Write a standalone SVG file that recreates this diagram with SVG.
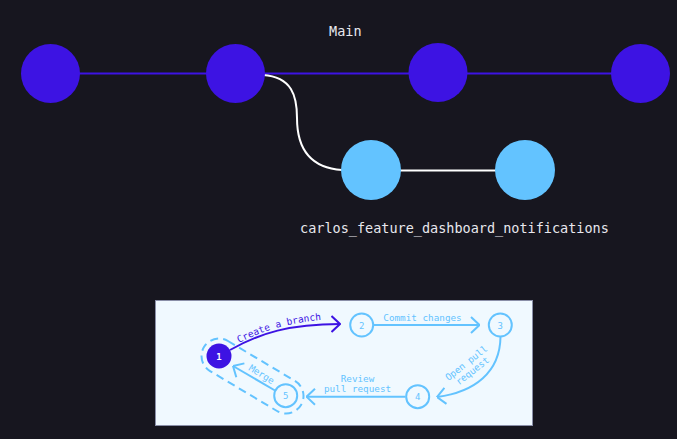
<svg xmlns="http://www.w3.org/2000/svg" width="677" height="439" viewBox="0 0 677 439">
<style>
.mono{font-family:"DejaVu Sans Mono","Liberation Mono",monospace}
.lbl{fill:#e8e8ee;font-size:13.5px}
.main{fill:#3d13e3}
.feat{fill:#63c3ff}
.step{fill:#f0f9ff;stroke:#63c3ff;stroke-width:2}
.num{font-size:9px;fill:#63c3ff;text-anchor:middle}
.plbl{font-size:9.3px;fill:#63c3ff}
.blue{fill:none;stroke:#63c3ff;stroke-width:2}
.purp{fill:none;stroke:#3d13e3;stroke-width:2}
</style>
<defs>
<marker id="chevB" viewBox="0 0 10 20" refX="9.5" refY="10" markerWidth="10" markerHeight="20" markerUnits="userSpaceOnUse" orient="auto">
<path d="M1,2 L9.5,10 L1,18" fill="none" stroke="#63c3ff" stroke-width="2"/>
</marker>
<marker id="chevP" viewBox="0 0 10 20" refX="9.5" refY="10" markerWidth="10" markerHeight="20" markerUnits="userSpaceOnUse" orient="auto">
<path d="M1,2 L9.5,10 L1,18" fill="none" stroke="#3d13e3" stroke-width="2"/>
</marker>
<path id="cbPath" d="M239 343 C260 332 290 321 334 319"/>
</defs>
<rect width="677" height="439" fill="#17161f"/>

<g id="connectors">
<line x1="50" y1="73.5" x2="640" y2="73.5" stroke="#3d13e3" stroke-width="2"/>
<path d="M263 75 C292 77 297 96 297 118 C297 150 312 168 342 170" fill="none" stroke="#ffffff" stroke-width="2"/>
<line x1="371" y1="170.5" x2="525" y2="170.5" stroke="#ffffff" stroke-width="2"/>
</g>

<g id="main-1"><circle class="main" cx="50.5" cy="73.5" r="29.5"/></g>
<g id="main-2"><circle class="main" cx="235.5" cy="73.5" r="29.5"/></g>
<g id="main-3"><circle class="main" cx="438" cy="72.5" r="29.5"/></g>
<g id="main-4"><circle class="main" cx="640.5" cy="73.5" r="29.5"/></g>
<g id="feature-1"><circle class="feat" cx="371" cy="170" r="30"/></g>
<g id="feature-2"><circle class="feat" cx="525" cy="170" r="30"/></g>

<text class="mono lbl" x="329" y="35.5">Main</text>
<text class="mono lbl" x="300" y="233">carlos_feature_dashboard_notifications</text>

<g id="panel">
<rect x="155.5" y="300.5" width="377" height="125" fill="#f0f9ff" stroke="#8a8fa8" stroke-width="1"/>

<g id="panel-connectors">
<path class="purp" d="M230 350 C260 333 290 324 340 324" marker-end="url(#chevP)"/>
<line class="blue" x1="374" y1="325" x2="479.5" y2="325" marker-end="url(#chevB)"/>
<path class="blue" d="M500.5 337 C500 372 475 392 437 397" marker-end="url(#chevB)"/>
<line class="blue" x1="405.5" y1="396.7" x2="306.5" y2="396.7" marker-end="url(#chevB)"/>
<line class="blue" x1="275" y1="390.5" x2="233" y2="366" marker-end="url(#chevB)"/>
<rect x="196" y="358.5" width="113" height="35" rx="17.5" fill="none" stroke="#63c3ff" stroke-width="2" stroke-dasharray="8 5" transform="rotate(30.8 252.5 376)"/>

<text class="mono" font-size="9.5" fill="#3d13e3"><textPath href="#cbPath">Create a branch</textPath></text>
<text class="mono plbl" x="422.5" y="320.5" text-anchor="middle">Commit changes</text>
<text class="mono plbl" text-anchor="middle" transform="translate(467 364) rotate(-38)"><tspan x="0" y="2">Open pull</tspan><tspan x="0" y="12">request</tspan></text>
<text class="mono plbl" text-anchor="middle"><tspan x="357.5" y="381.5">Review</tspan><tspan x="357.5" y="391.5">pull request</tspan></text>
<text class="mono plbl" text-anchor="middle" transform="translate(261.5 374.5) rotate(32)" y="3">Merge</text>
</g>

<g id="step-1"><circle cx="219" cy="356" r="12.5" fill="#3d13e3"/><text class="mono" x="219" y="359.5" font-size="9" font-weight="bold" fill="#ffffff" text-anchor="middle">1</text></g>
<g id="step-2"><circle class="step" cx="361.7" cy="325" r="11.5"/><text class="mono num" x="361.7" y="328.5">2</text></g>
<g id="step-3"><circle class="step" cx="500.3" cy="325" r="11.5"/><text class="mono num" x="500.3" y="328.5">3</text></g>
<g id="step-4"><circle class="step" cx="417.7" cy="396.7" r="11.5"/><text class="mono num" x="417.7" y="400">4</text></g>
<g id="step-5"><circle class="step" cx="285.7" cy="395.7" r="11.5"/><text class="mono num" x="285.7" y="399">5</text></g>
</g>
</svg>
